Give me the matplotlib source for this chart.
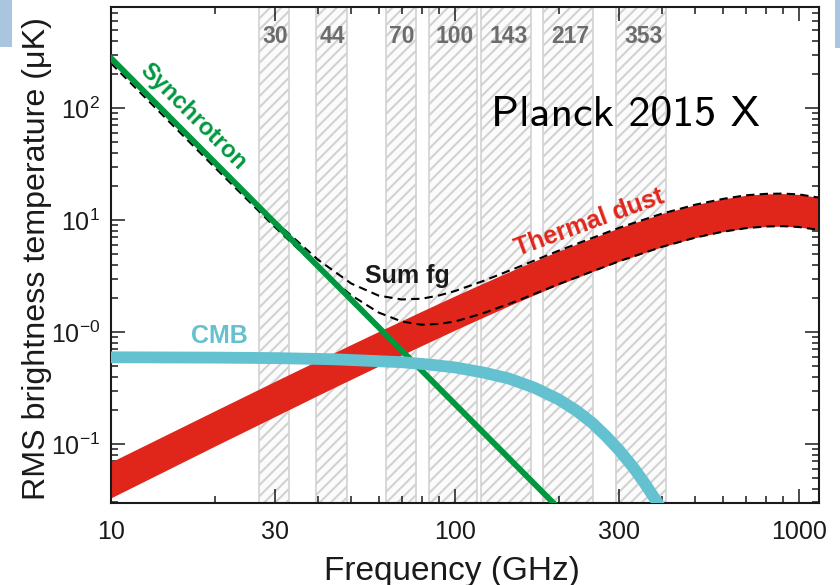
import matplotlib
matplotlib.use("Agg")
import matplotlib.pyplot as plt
from matplotlib.patches import Rectangle
from matplotlib.ticker import LogLocator, NullFormatter

# Planck frequency channels (GHz) and the hatched band each one covers
band_names = ["30", "44", "70", "100", "143", "217", "353"]
band_lo = [27, 39.5, 63, 84, 119, 180, 294]
band_hi = [33, 48.5, 77, 116, 166, 252, 410]

# Synchrotron (straight power law in log-log)
freq_sync = [10, 30, 100, 200]
sync = [279, 9.37, 0.227, 0.0267]

# Thermal dust band, upper and lower edges
freq_dust = [10, 20, 30, 40, 50, 60, 70, 80, 100, 120, 150, 200, 300, 400,
             500, 600, 700, 800, 900, 1000, 1150]
dust_hi = [0.069, 0.197, 0.363, 0.557, 0.774, 1.01, 1.26, 1.53, 2.10, 2.70, 3.65,
           5.28, 8.51, 11.4, 13.7, 15.4, 16.6, 17.1, 17.2, 16.9, 15.8]
dust_lo = [0.033, 0.0954, 0.176, 0.272, 0.379, 0.496, 0.622, 0.755, 1.04, 1.34, 1.82,
           2.64, 4.28, 5.76, 6.96, 7.85, 8.44, 8.74, 8.80, 8.65, 8.12]

# Sum of foregrounds, dashed upper / lower
freq_sum = [10, 20, 30, 40, 50, 60, 70, 80, 90, 100, 120, 150, 200, 300, 400,
            500, 600, 700, 800, 900, 1000, 1150]
sum_hi = [279, 33.0, 9.73, 4.41, 2.70, 2.11, 1.95, 1.98, 2.12, 2.32, 2.83, 3.71,
          5.31, 8.51, 11.4, 13.7, 15.4, 16.6, 17.1, 17.2, 16.9, 15.8]
sum_lo = [251, 29.6, 8.61, 3.74, 2.12, 1.49, 1.24, 1.16, 1.18, 1.24, 1.46, 1.87,
          2.67, 4.28, 5.76, 6.96, 7.85, 8.44, 8.74, 8.80, 8.65, 8.12]

# CMB
freq_cmb = [10, 20, 30, 44, 70, 85, 100, 120, 143, 170, 200, 225, 250, 275, 300,
            330, 353, 370, 390, 400]
cmb = [0.594, 0.590, 0.584, 0.571, 0.537, 0.510, 0.482, 0.436, 0.385, 0.318, 0.250,
       0.199, 0.155, 0.117, 0.0880, 0.0615, 0.0462, 0.0372, 0.0290, 0.0255]

xticks = [10, 30, 100, 300, 1000]
xtick_labels = ["10", "30", "100", "300", "1000"]
yticks = [0.1, 1, 10, 100]
ytick_labels = [r"$10^{-1}$", r"$10^{-0}$", r"$10^{1}$", r"$10^{2}$"]

RED = "#e0261b"
GREEN = "#00983f"
CYAN = "#64c1cf"
INK = "#1a1a1a"

plt.rcParams["font.family"] = ["Liberation Sans", "DejaVu Sans"]
plt.rcParams["mathtext.fontset"] = "custom"
plt.rcParams["mathtext.rm"] = "Liberation Sans"
plt.rcParams["mathtext.it"] = "Liberation Sans:italic"
plt.rcParams["mathtext.bf"] = "Liberation Sans:bold"
plt.rcParams["mathtext.default"] = "regular"
plt.rcParams["hatch.linewidth"] = 1.5

fig = plt.figure(figsize=(8.4, 5.85), dpi=100)
ax = fig.add_axes([0.1321, 0.1402, 0.8429, 0.8479])
ax.set_xscale("log")
ax.set_yscale("log")
ax.set_xlim(10, 1143)
ax.set_ylim(0.0297, 798)

for lo, hi, name in zip(band_lo, band_hi, band_names):
    ax.axvspan(lo, hi, facecolor="#fbfbfb", edgecolor="#d2d2d2", hatch="///", lw=1.2, zorder=0.5)
    ax.text(float(name), 0.9395, name, transform=ax.get_xaxis_transform(), ha="center",
            va="center", fontsize=16.5, fontweight="bold", color="#6c6c6c")

ax.fill_between(freq_dust, dust_lo, dust_hi, color=RED, lw=0, zorder=2)
ax.plot(freq_sum, sum_hi, color="black", lw=1.5, dashes=(4, 2.5), zorder=2.5)
ax.plot(freq_sum, sum_lo, color="black", lw=1.5, dashes=(4, 2.5), zorder=2.5)
ax.plot(freq_sync, sync, color=GREEN, lw=4.2, zorder=3)
ax.plot(freq_cmb, cmb, color=CYAN, lw=8.5, zorder=4)

ax.text(17.3, 83, "Synchrotron", color=GREEN, fontsize=17, fontweight="bold",
        rotation=-45, ha="center", va="center", rotation_mode="anchor")
ax.text(246, 9.4, "Thermal dust", color=RED, fontsize=18, fontweight="bold",
        rotation=20, ha="center", va="center", rotation_mode="anchor")
ax.text(20.6, 0.92, "CMB", color=CYAN, fontsize=18, fontweight="bold",
        ha="center", va="center")
ax.text(72.5, 3.16, "Sum fg", color=INK, fontsize=18, fontweight="bold",
        ha="center", va="center")
ax.text(0.727, 0.782, "Planck 2015 X", transform=ax.transAxes, fontsize=31.5,
        family="cmss10", ha="center", va="center")

ax.set_xticks(xticks, labels=xtick_labels)
ax.xaxis.set_minor_locator(LogLocator(base=10, subs=range(2, 10)))
ax.xaxis.set_minor_formatter(NullFormatter())
ax.set_yticks(yticks, labels=ytick_labels)
ax.yaxis.set_minor_locator(LogLocator(base=10, subs=range(2, 10)))
ax.yaxis.set_minor_formatter(NullFormatter())
ax.tick_params(which="both", direction="in", top=True, right=True, width=1.1,
               labelsize=18, colors=INK)
ax.tick_params(which="major", length=10)
ax.tick_params(which="minor", length=5)
ax.tick_params(axis="x", pad=12)
ax.tick_params(axis="y", pad=8)
for s in ax.spines.values():
    s.set_linewidth(1.5)
    s.set_color(INK)

ax.set_xlabel("Frequency (GHz)", fontsize=24, color=INK)
ax.xaxis.set_label_coords(0.482, -0.106)
ax.set_ylabel("RMS brightness temperature (\u03bcK)", fontsize=23.2, color=INK)
ax.yaxis.set_label_coords(-0.083, 0.492)

# light-blue slide corners
fig.add_artist(Rectangle((0, 1 - 47 / 585), 12 / 840, 47 / 585, transform=fig.transFigure,
                         facecolor="#a9c6de", lw=0))
fig.add_artist(Rectangle((835 / 840, 1 - 48 / 585), 5 / 840, 48 / 585, transform=fig.transFigure,
                         facecolor="#a9c6de", lw=0))

fig.savefig("out.png", dpi=100)
